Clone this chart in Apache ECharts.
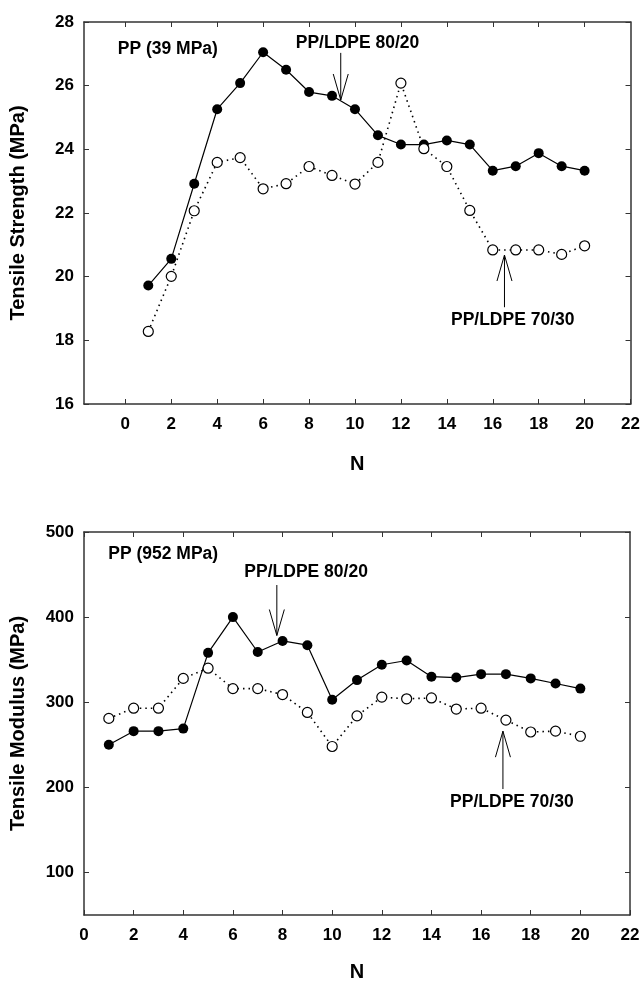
<!DOCTYPE html>
<html>
<head>
<meta charset="utf-8">
<script src="https://cdn.jsdelivr.net/npm/echarts@6/dist/echarts.min.js"></script>
<style>
  html, body { margin: 0; padding: 0; background: #fff; }
  #chart { width: 643px; height: 983px; }
</style>
</head>
<body>
<div id="chart"></div>
<script>
// number of passes N
var passes = [1, 2, 3, 4, 5, 6, 7, 8, 9, 10, 11, 12, 13, 14, 15, 16, 17, 18, 19, 20];

// tensile strength (MPa)
var strength8020 = [19.72, 20.56, 22.92, 25.26, 26.08, 27.05, 26.50, 25.80, 25.68, 25.26,
                    24.44, 24.15, 24.15, 24.28, 24.15, 23.33, 23.47, 23.88, 23.47, 23.33];
var strength7030 = [18.28, 20.01, 22.07, 23.59, 23.74, 22.76, 22.92, 23.46, 23.18, 22.91,
                    23.59, 26.08, 24.02, 23.46, 22.08, 20.84, 20.84, 20.84, 20.70, 20.97];

// tensile modulus (MPa)
var modulus8020 = [250, 266, 266, 269, 358, 400, 359, 372, 367, 303,
                   326, 344, 349, 330, 329, 333, 333, 328, 322, 316];
var modulus7030 = [281, 293, 293, 328, 340, 316, 316, 309, 288, 248,
                   284, 306, 304, 305, 292, 293, 279, 265, 266, 260];

// tick labels
var nTicks = [0, 2, 4, 6, 8, 10, 12, 14, 16, 18, 20, 22];
var modulusTicks = [100, 200, 300, 400, 500];

// annotations: [x, y, text]
var strengthNotes = [[1.85, 27.15, 'PP (39 MPa)'], [10.11, 27.33, 'PP/LDPE 80/20'], [16.87, 18.64, 'PP/LDPE 70/30']];
var modulusNotes = [[3.19, 473.6, 'PP (952 MPa)'], [8.95, 453.3, 'PP/LDPE 80/20'], [17.24, 182.9, 'PP/LDPE 70/30']];
// arrows: [x, yFrom, yTip]
var strengthArrows = [[9.38, 27.03, 25.55], [16.51, 19.04, 20.68]];
var modulusArrows = [[7.77, 437.7, 378.4], [16.88, 198, 266]];

var FONT = '"Liberation Sans", Arial, sans-serif';
var FRAME = '#333';

function pairs(ys) {
  return passes.map(function (n, i) { return [n, ys[i]]; });
}

function xAxes(grid, min, gap) {
  var line = { show: true, onZero: false, lineStyle: { color: FRAME, width: 1.5 } };
  var bottom = {
    type: 'value', gridIndex: grid, min: min, max: 22, position: 'bottom',
    name: 'N', nameLocation: 'middle', nameGap: gap,
    nameTextStyle: { fontFamily: FONT, fontWeight: 'bold', fontSize: 20, color: '#000' },
    axisLine: line,
    axisTick: { show: true, inside: true, length: 5, customValues: nTicks, lineStyle: { color: FRAME } },
    axisLabel: { show: true, customValues: nTicks, margin: 12, fontFamily: FONT, fontWeight: 'bold', fontSize: 17, color: '#000' },
    splitLine: { show: false }
  };
  var upper = {
    type: 'value', gridIndex: grid, min: min, max: 22, position: 'top',
    axisLine: line,
    axisTick: { show: true, inside: true, length: 5, customValues: nTicks.slice(0, -1), lineStyle: { color: FRAME } },
    axisLabel: { show: false },
    splitLine: { show: false }
  };
  return [bottom, upper];
}

function yAxes(grid, min, max, ticks, name) {
  var line = { show: true, onZero: false, lineStyle: { color: FRAME, width: 1.5 } };
  var tickCfg = { show: true, inside: true, length: 5, lineStyle: { color: FRAME } };
  if (ticks) tickCfg.customValues = ticks;
  var left = {
    type: 'value', gridIndex: grid, min: min, max: max, position: 'left',
    name: name, nameLocation: 'middle', nameGap: 56, nameRotate: 90,
    nameTextStyle: { fontFamily: FONT, fontWeight: 'bold', fontSize: 20, color: '#000' },
    axisLine: line,
    axisTick: tickCfg,
    axisLabel: { show: true, margin: 10, fontFamily: FONT, fontWeight: 'bold', fontSize: 17, color: '#000' },
    splitLine: { show: false }
  };
  if (ticks) left.axisLabel.customValues = ticks; else left.interval = 2;
  var right = {
    type: 'value', gridIndex: grid, min: min, max: max, position: 'right',
    axisLine: line,
    axisTick: tickCfg,
    axisLabel: { show: false },
    splitLine: { show: false }
  };
  if (!ticks) right.interval = 2;
  return [left, right];
}

function filledSeries(ax, ys) {
  return {
    type: 'line', xAxisIndex: ax, yAxisIndex: ax, data: pairs(ys),
    symbol: 'circle', symbolSize: 10,
    itemStyle: { color: '#000' },
    lineStyle: { color: '#000', width: 1.2, type: 'solid' },
    z: 3
  };
}

function openSeries(ax, ys) {
  return {
    type: 'line', xAxisIndex: ax, yAxisIndex: ax, data: pairs(ys),
    symbol: 'circle', symbolSize: 10,
    itemStyle: { color: '#fff', borderColor: '#000', borderWidth: 1.2 },
    lineStyle: { color: '#000', width: 1.6, type: [1.5, 4] },
    z: 4
  };
}

function noteSeries(ax, notes) {
  return {
    type: 'custom', xAxisIndex: ax, yAxisIndex: ax, clip: false, silent: true, z: 5,
    data: notes.map(function (d) { return [d[0], d[1]]; }),
    renderItem: function (params, api) {
      var p = api.coord([api.value(0), api.value(1)]);
      return {
        type: 'text', x: p[0], y: p[1],
        style: {
          text: notes[params.dataIndex][2], fill: '#000',
          font: 'bold 17.5px ' + FONT, textAlign: 'center', textVerticalAlign: 'middle'
        }
      };
    }
  };
}

function arrowSeries(ax, arrows) {
  return {
    type: 'custom', xAxisIndex: ax, yAxisIndex: ax, clip: false, silent: true, z: 5,
    data: arrows,
    encode: { x: 0, y: [1, 2] },
    renderItem: function (params, api) {
      var a = api.coord([api.value(0), api.value(1)]);
      var b = api.coord([api.value(0), api.value(2)]);
      var dir = b[1] > a[1] ? 1 : -1;
      var hy = b[1] - dir * 26;
      var st = { stroke: '#000', lineWidth: 1, fill: null };
      return {
        type: 'group',
        children: [
          { type: 'line', shape: { x1: a[0], y1: a[1], x2: b[0], y2: b[1] }, style: st },
          { type: 'line', shape: { x1: b[0] - 7.5, y1: hy, x2: b[0], y2: b[1] }, style: st },
          { type: 'line', shape: { x1: b[0] + 7.5, y1: hy, x2: b[0], y2: b[1] }, style: st }
        ]
      };
    }
  };
}

var chart = echarts.init(document.getElementById('chart'), null, { renderer: 'canvas' });

var xa = xAxes(0, -1.8, 50).concat(xAxes(1, 0, 47));
var ya = yAxes(0, 16, 28, null, 'Tensile Strength (MPa)').concat(yAxes(1, 50, 500, modulusTicks, 'Tensile Modulus (MPa)'));

chart.setOption({
  animation: false,
  backgroundColor: '#fff',
  grid: [
    { left: 84, top: 22, width: 548, height: 382 },
    { left: 84, top: 532, width: 546, height: 385 }
  ],
  xAxis: xa,
  yAxis: ya,
  series: [
    filledSeries(0, strength8020),
    openSeries(0, strength7030),
    noteSeries(0, strengthNotes),
    arrowSeries(0, strengthArrows),
    filledSeries(2, modulus8020),
    openSeries(2, modulus7030),
    noteSeries(2, modulusNotes),
    arrowSeries(2, modulusArrows)
  ]
});
</script>
</body>
</html>
